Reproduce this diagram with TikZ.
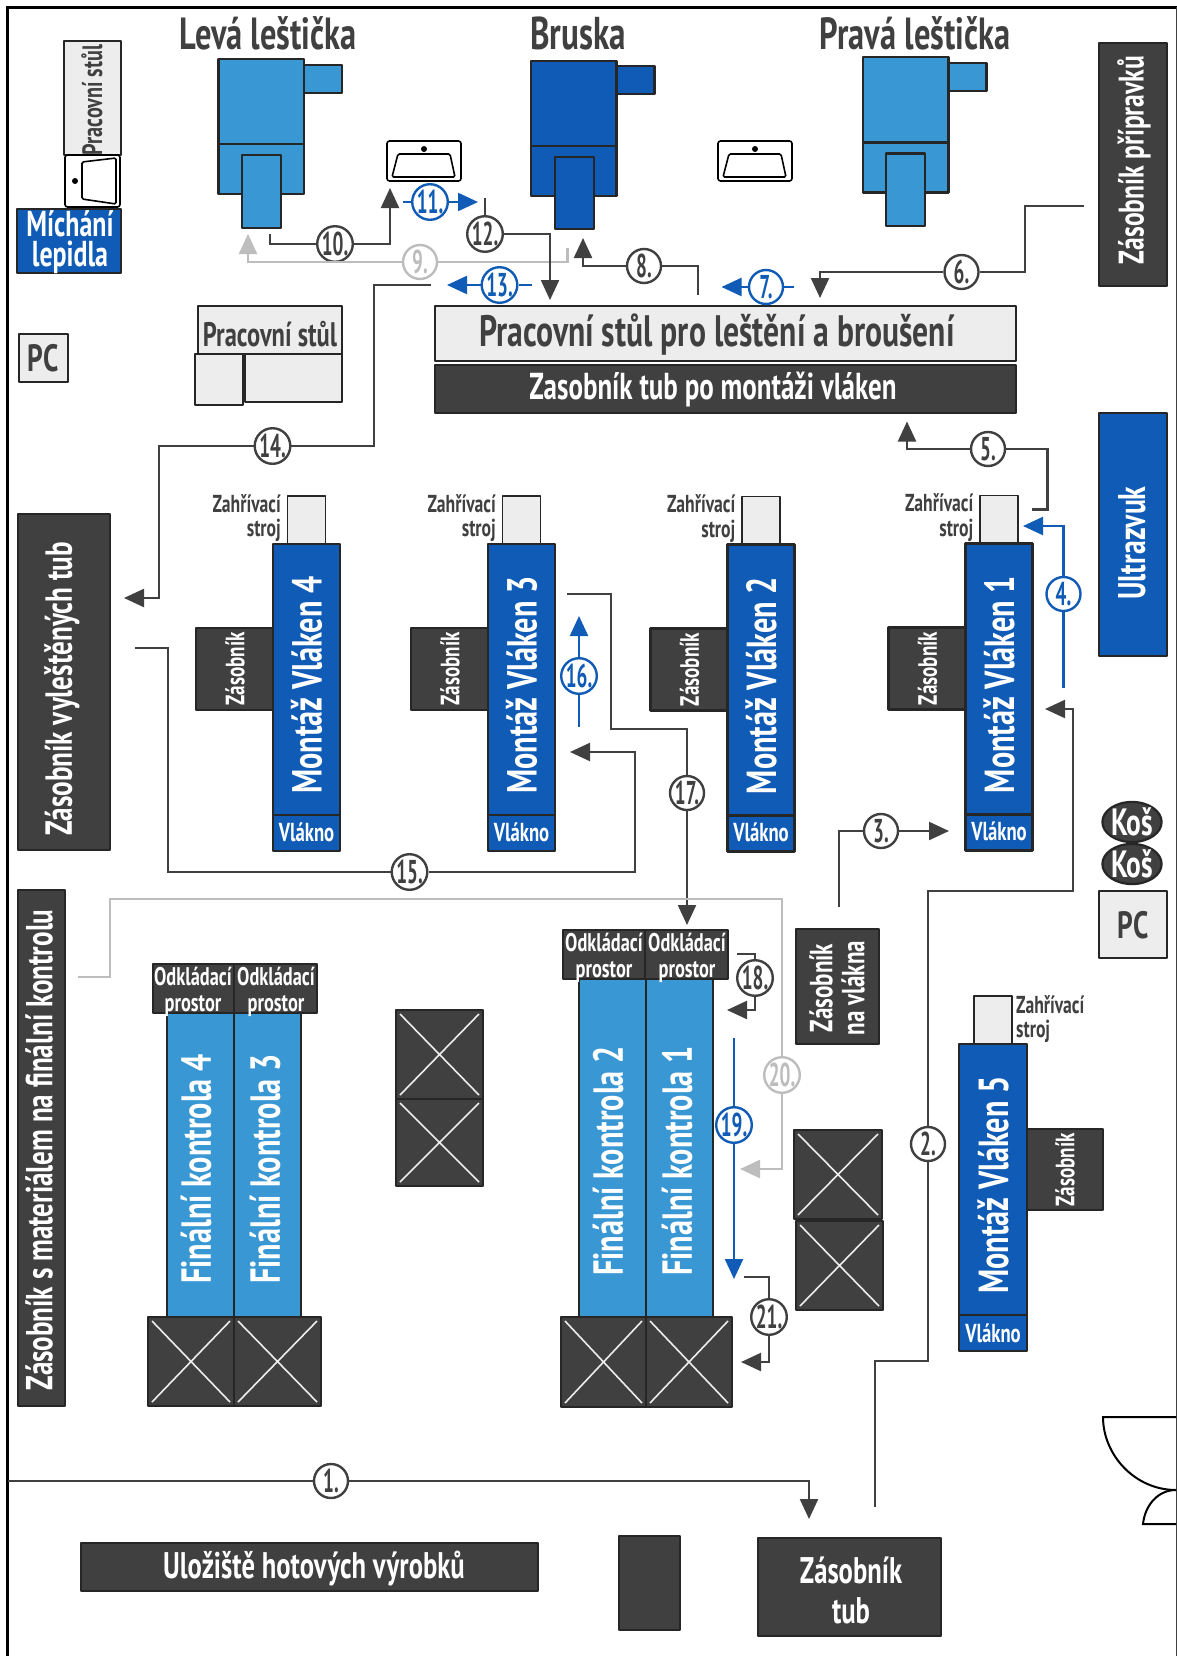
\documentclass[tikz,border=0pt]{standalone}
\usepackage{fontspec}
\setmainfont{PT Sans}[FakeStretch=0.72]
\newfontfamily\numfont{PT Sans}[FakeStretch=0.58]
\usepackage{tikz}
\usetikzlibrary{arrows.meta,shapes.geometric}
\definecolor{tmava}{HTML}{404040}
\definecolor{linka}{HTML}{262626}
\definecolor{stredni}{HTML}{3997D3}
\definecolor{modra}{HTML}{0F5BB5}
\definecolor{svetla}{HTML}{EDEDED}
\definecolor{seda}{HTML}{BDBDBD}
\newcommand{\fs}[1]{\fontsize{#1}{#1}\selectfont\bfseries}
\newcommand{\paleta}[4]{%
  \draw[boxdark] (#1,#2) rectangle (#3,#4);
  \draw[crossline] (#1+4,#2+4) -- (#3-4,#4-4) (#1+4,#4-4) -- (#3-4,#2+4);}
\begin{document}
\begin{tikzpicture}[x=1pt,y=-1pt,>={Triangle[length=20pt,width=18pt]},
  boxdark/.style={draw=linka,fill=tmava,line width=2.2pt,line join=round},
  boxlight/.style={draw=linka,fill=svetla,line width=2.2pt,line join=round},
  boxblue/.style={draw=linka,fill=modra,line width=2.6pt,line join=round},
  boxmid/.style={draw=linka,fill=stredni,line width=2.6pt,line join=round},
  crossline/.style={draw=svetla,line width=1.6pt},
  flow/.style={draw=tmava,line width=2.3pt},
  flowblue/.style={draw=modra,line width=2.3pt},
  flowgray/.style={draw=seda,line width=2.3pt},
  num/.style={circle,draw=tmava,fill=white,text=tmava,line width=2.4pt,minimum size=34pt,inner sep=0pt,font=\numfont\fontsize{33}{33}\selectfont\bfseries},
  numblue/.style={num,draw=modra,text=modra},
  numgray/.style={num,draw=seda,text=seda},
  txtwhite/.style={text=white,inner sep=0pt,align=center},
  txtdark/.style={text=tmava,inner sep=0pt,align=center}]
  \useasboundingbox (0,0) rectangle (1177,1656);
  \fill[white] (0,0) rectangle (1177,1656);
  \draw[black,line width=2.5pt] (7.5,1656) -- (7.5,7.5) -- (1177,7.5);
  \draw[tmava,line width=1pt] (1176,7.5) -- (1176,1656);

  \node[txtdark,font=\fs{45}] (leva) at (268,33) {Levá leštička};
  \node[txtdark,font=\fs{46}] (bruska) at (578,33) {Bruska};
  \node[txtdark,font=\fs{45}] (prava) at (915,33) {Pravá leštička};

  \foreach \mx/\my/\mh/\nx/\nh/\sx/\sy/\mname/\barva in
    {218.5/59/85/242/228/304/65/levastroj/boxmid,
     531/61/85/555/229/617/66/bruskastroj/boxblue,
     863/57/85.5/886/226/948/63/pravastroj/boxmid} {
    \draw[\barva] (\mx+85,\sy) rectangle (\mx+123.5,\sy+28);
    \draw[\barva] (\mx,\my) rectangle (\mx+85.5,\my+\mh);
    \draw[\barva] (\mx,\my+\mh) rectangle (\mx+85.5,\my+\mh+50);
    \draw[\barva] (\nx,\my+\mh+11) rectangle (\nx+39,\nh);
  }

  \foreach \sx in {387,718} {
    \draw[black,line width=1.6pt,rounded corners=2.5pt,fill=white] (\sx,141) rectangle (\sx+74,181);
    \draw[black,line width=1.6pt,rounded corners=1.5pt] (\sx+11,154) -- (\sx+63,154) -- (\sx+68,177) -- (\sx+5,177) -- cycle;
    \fill[black] (\sx+37,149) circle (3pt);
  }

  \draw[boxlight] (64,41) rectangle (121,155);
  \node[txtdark,rotate=90,font=\fs{28}] (stulsvisly) at (92,100) {Pracovní stůl};
  \draw[black,line width=1.6pt,rounded corners=2.5pt,fill=white] (65,155) rectangle (120,207);
  \draw[black,line width=1.6pt,rounded corners=1.5pt] (82,162) -- (116,158) -- (116,204) -- (82,199) -- cycle;
  \fill[black] (75,181) circle (3pt);
  \draw[boxblue] (17,209) rectangle (121,273);
  \node[txtwhite,font=\fs{36}] (michani) at (70,242) {Míchání\\[-6pt]lepidla};

  \draw[boxlight] (19,334) rectangle (68,382);
  \node[txtdark,font=\fs{38}] (pclevy) at (43,358) {PC};

  \draw[boxlight] (198,306) rectangle (342,354);
  \node[txtdark,font=\fs{34}] (stulmaly) at (270,334) {Pracovní stůl};
  \draw[boxlight] (195,354) rectangle (243,405);
  \draw[boxlight] (245,354) rectangle (342,402);

  \draw[boxlight] (435,306) rectangle (1016,361);
  \node[txtdark,font=\fs{44}] (stulvelky) at (717,335) {Pracovní stůl pro leštění a broušení};
  \draw[boxdark] (435,365) rectangle (1016,413);
  \node[txtwhite,font=\fs{37.5}] (zasobnikpo) at (713,390) {Zasobník tub po montáži vláken};

  \draw[boxdark] (1099,43) rectangle (1167,286);
  \node[txtwhite,rotate=90,font=\fs{35.5}] (pripravky) at (1134,160) {Zásobník přípravků};
  \draw[boxblue] (1099,413) rectangle (1167,656);
  \node[txtwhite,rotate=90,font=\fs{38.5}] (ultrazvuk) at (1132,543) {Ultrazvuk};
  \node[ellipse,boxdark,minimum width=54pt,minimum height=38pt,inner sep=0pt,text=white,font=\fs{38}] (kos1) at (1132,822) {Koš};
  \node[ellipse,boxdark,minimum width=54pt,minimum height=38pt,inner sep=0pt,text=white,font=\fs{38}] (kos2) at (1132,864) {Koš};
  \draw[boxlight] (1099,891) rectangle (1167,958);
  \node[txtdark,font=\fs{38}] (pcpravy) at (1133,925) {PC};

  \draw[boxdark] (18,514) rectangle (110,850);
  \node[txtwhite,rotate=90,font=\fs{37.7}] (vylestene) at (62,689) {Zásobník vyleštěných tub};

  \foreach \idx/\mx/\my/\zy in {1/965.5/543.5/627.5,2/727.5/544.5/628.5,3/488/544/628,4/273/544/628} {
    \draw[boxlight,line width=1.4pt] (\mx+14.5,\my-48) rectangle (\mx+52.5,\my);
    \node[txtdark,anchor=east,align=right,font=\fs{24.5}] (ohrev\idx) at (\mx+8,\my-26) {Zahřívací\\stroj};
    \draw[boxdark] (\mx-77,\zy) rectangle (\mx,\zy+82);
    \node[txtwhite,rotate=90,font=\fs{26.5}] (zasobnik\idx) at (\mx-38,\zy+41) {Zásobník};
    \draw[boxblue] (\mx,\my) rectangle (\mx+67,\my+271);
    \draw[boxblue] (\mx,\my+271) rectangle (\mx+67,\my+307);
    \node[txtwhite,rotate=90,font=\fs{42}] (montaz\idx) at (\mx+33.5,\my+141) {Montáž Vláken \idx};
    \node[txtwhite,font=\fs{26}] (vlakno\idx) at (\mx+33.5,\my+288) {Vlákno};
  }

  \draw[boxlight,line width=1.4pt] (974,996) rectangle (1012,1044);
  \node[txtdark,anchor=west,align=left,font=\fs{24.5}] (ohrev5) at (1016,1019) {Zahřívací\\stroj};
  \draw[boxdark] (1027,1129) rectangle (1103,1210);
  \node[txtwhite,rotate=90,font=\fs{26.5}] (zasobnik5) at (1065,1170) {Zásobník};
  \draw[boxblue] (959,1044) rectangle (1027,1315);
  \draw[boxblue] (959,1315) rectangle (1027,1351);
  \node[txtwhite,rotate=90,font=\fs{42}] (montaz5) at (993,1185) {Montáž Vláken 5};
  \node[txtwhite,font=\fs{26}] (vlakno5) at (993,1333) {Vlákno};

  \draw[boxdark] (18,890) rectangle (65,1406);
  \node[txtwhite,rotate=90,font=\fs{37.6}] (material) at (39,1150) {Zásobník s materiálem na finální kontrolu};

  \draw[boxmid] (167,1013) rectangle (234,1317);
  \draw[boxmid] (234,1013) rectangle (301,1317);
  \draw[boxdark] (153,964) rectangle (234,1013);
  \draw[boxdark] (234,964) rectangle (317,1013);
  \node[txtwhite,font=\fs{25.5}] (odklad4) at (193,992) {Odkládací\\prostor};
  \node[txtwhite,font=\fs{25.5}] (odklad3) at (276,992) {Odkládací\\prostor};
  \node[txtwhite,rotate=90,font=\fs{42}] (kontrola4) at (196,1169) {Finální kontrola 4};
  \node[txtwhite,rotate=90,font=\fs{42}] (kontrola3) at (265,1169) {Finální kontrola 3};
  \paleta{148}{1317}{234}{1406}
  \paleta{234}{1317}{321}{1406}

  \draw[boxmid] (579,979) rectangle (646,1317);
  \draw[boxmid] (646,979) rectangle (713,1317);
  \draw[boxdark] (563,930) rectangle (645,979);
  \draw[boxdark] (645,930) rectangle (728,979);
  \node[txtwhite,font=\fs{25.5}] (odklad2) at (604,958) {Odkládací\\prostor};
  \node[txtwhite,font=\fs{25.5}] (odklad1) at (687,958) {Odkládací\\prostor};
  \node[txtwhite,rotate=90,font=\fs{42}] (kontrola2) at (608,1161) {Finální kontrola 2};
  \node[txtwhite,rotate=90,font=\fs{42}] (kontrola1) at (677,1161) {Finální kontrola 1};
  \paleta{561}{1317}{646}{1407}
  \paleta{646}{1317}{732}{1407}

  \paleta{396}{1010}{483}{1099}
  \paleta{396}{1099}{483}{1186}
  \paleta{794}{1130}{882}{1219}
  \paleta{796}{1221}{883}{1310}

  \draw[boxdark] (796,929) rectangle (879,1044);
  \node[txtwhite,rotate=90,font=\fs{32}] (navlakna) at (837,988) {Zásobník\\na vlákna};

  \draw[black,line width=2pt] (1176,1417) -- (1103,1417) .. controls (1103,1455) and (1135,1490) .. (1176,1490);
  \draw[black,line width=2pt] (1176,1524) -- (1143,1524) .. controls (1145,1505) and (1158,1490) .. (1176,1490);

  \draw[boxdark] (81,1543) rectangle (538,1591);
  \node[txtwhite,font=\fs{37}] (uloziste) at (314,1569) {Uložiště hotových výrobků};
  \draw[boxdark] (619,1536) rectangle (680,1630);
  \draw[boxdark] (758,1538) rectangle (941,1636);
  \node[txtwhite,font=\fs{37}] (tuby) at (851,1590) {Zásobník\\[3pt]tub};

  \node[num] (n1) at (331,1481) {1.};
  \node[num] (n2) at (928,1144) {2.};
  \node[num] (n3) at (881,831) {3.};
  \node[numblue] (n4) at (1063.5,594) {4.};
  \node[num] (n5) at (988,449) {5.};
  \node[num] (n6) at (961.5,272) {6.};
  \node[numblue] (n7) at (766,287) {7.};
  \node[num] (n8) at (644,266) {8.};
  \node[numgray] (n9) at (420,262) {9.};
  \node[num] (n10) at (335,244) {10.};
  \node[numblue] (n11) at (430,202) {11.};
  \node[num] (n12) at (485,234) {12.};
  \node[numblue] (n13) at (499.5,285) {13.};
  \node[num] (n14) at (272.5,446) {14.};
  \node[num] (n15) at (409.5,872) {15.};
  \node[numblue] (n16) at (579,676) {16.};
  \node[num] (n17) at (687,793) {17.};
  \node[num] (n18) at (755,978) {18.};
  \node[numblue] (n19) at (734,1125) {19.};
  \node[numgray] (n20) at (782,1075) {20.};
  \node[num] (n21) at (769,1317) {21.};

  \coordinate (a1) at (8,1481);
  \coordinate (b1) at (809,1519);
  \coordinate (a2) at (875,1507);
  \coordinate (m2) at (928,1361);
  \coordinate (p2) at (1073,891);
  \coordinate (b2) at (1045,709);
  \coordinate (a3) at (839,907);
  \coordinate (b3) at (949,831);
  \coordinate (a4) at (1063.5,688);
  \coordinate (b4) at (1023,526);
  \coordinate (a5) at (1032,509.5);
  \coordinate (m5) at (1047.5,449);
  \coordinate (b5) at (907,421.5);
  \coordinate (a6) at (1084,206);
  \coordinate (m6) at (1025,206);
  \coordinate (b6) at (820,298);
  \coordinate (a7) at (794,287);
  \coordinate (b7) at (721.5,287);
  \coordinate (a8) at (698,295);
  \coordinate (b8) at (583,238);
  \coordinate (a9) at (567.5,248);
  \coordinate (b9) at (248,234);
  \coordinate (a10) at (270,234);
  \coordinate (b10) at (390,188);
  \coordinate (a11) at (403,202);
  \coordinate (b11) at (478,202);
  \coordinate (a12) at (485,198);
  \coordinate (b12) at (550,300);
  \coordinate (a13) at (532,285);
  \coordinate (b13) at (447,285);
  \coordinate (a14) at (431,285);
  \coordinate (m14) at (374,285);
  \coordinate (p14) at (159,446);
  \coordinate (b14) at (124,598);
  \coordinate (a15) at (135,648);
  \coordinate (m15) at (168,648);
  \coordinate (p15) at (635,752);
  \coordinate (b15) at (570,752);
  \coordinate (a16) at (579,727);
  \coordinate (b16) at (579,616);
  \coordinate (a17) at (567,594);
  \coordinate (m17) at (611,729);
  \coordinate (b17) at (687,925);
  \coordinate (a18) at (737,954);
  \coordinate (b18) at (727,1010);
  \coordinate (a19) at (734,1038);
  \coordinate (b19) at (734,1279);
  \coordinate (a20) at (78,977);
  \coordinate (m20) at (110,899);
  \coordinate (b20) at (740,1169);
  \coordinate (a21) at (744,1277);
  \coordinate (b21) at (741,1362);

  \draw[flow,->] (a1) -- (n1) -| (b1);
  \draw[flow,->] (a2) |- (m2) -- (n2) |- (p2) |- (b2);
  \draw[flow,->] (a3) |- (n3) -- (b3);
  \draw[flowblue,->] (a4) -- (n4) |- (b4);
  \draw[flow,->] (a5) -| (m5) -- (n5) -| (b5);
  \draw[flow,->] (a6) -- (m6) |- (n6) -| (b6);
  \draw[flowblue,->] (a7) -- (n7) -- (b7);
  \draw[flow,->] (a8) |- (n8) -| (b8);
  \draw[flowgray,->] (a9) |- (n9) -| (b9);
  \draw[flow,->] (a10) |- (n10) -| (b10);
  \draw[flowblue,->] (a11) -- (n11) -- (b11);
  \draw[flow,->] (a12) -- (n12) -| (b12);
  \draw[flowblue,->] (a13) -- (n13) -- (b13);
  \draw[flow,->] (a14) -- (m14) |- (n14) -- (p14) |- (b14);
  \draw[flow,->] (a15) -- (m15) |- (n15) -| (p15) -- (b15);
  \draw[flowblue,->] (a16) -- (n16) -- (b16);
  \draw[flow,->] (a17) -| (m17) -| (n17) -- (b17);
  \draw[flow,->] (a18) -| (n18) |- (b18);
  \draw[flowblue,->] (a19) -- (n19) -- (b19);
  \draw[flowgray,->] (a20) -| (m20) -| (n20) |- (b20);
  \draw[flow,->] (a21) -| (n21) |- (b21);
\end{tikzpicture}
\end{document}
